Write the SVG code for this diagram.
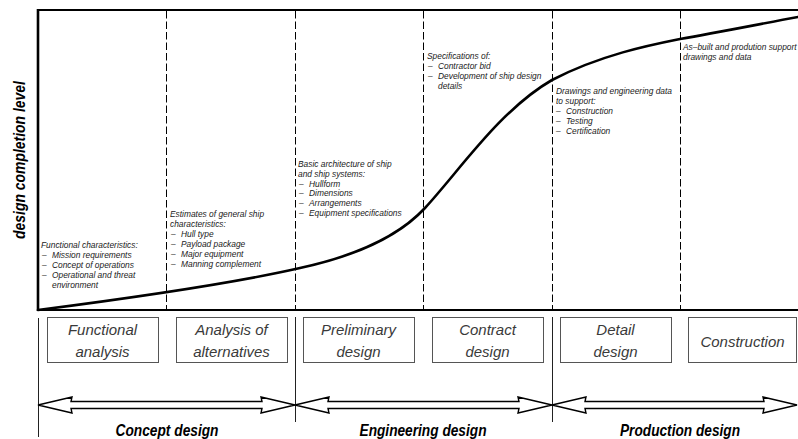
<svg xmlns="http://www.w3.org/2000/svg" width="798" height="439" viewBox="0 0 798 439">
<style>
.frame{stroke:#000;fill:none}
.dash{stroke:#000;stroke-width:1;stroke-dasharray:7.5 3;fill:none}
.vline{stroke:#222;stroke-width:1;fill:none}
.curve{stroke:#000;stroke-width:2.6;fill:none;stroke-linecap:round}
.box{fill:#fff;stroke:#555;stroke-width:1}
.btxt{font-family:"Liberation Sans",Arial,sans-serif;font-style:italic;font-size:15px;fill:#3a3a3a;text-anchor:middle}
.note{font-family:"Liberation Sans",Arial,sans-serif;font-style:italic;font-size:8.4px;fill:#1a1a1a}
.phase{font-family:"Liberation Sans",Arial,sans-serif;font-style:italic;font-weight:bold;font-size:16.5px;fill:#000;text-anchor:middle}
.arrow{fill:#fff;stroke:#000;stroke-width:1.4;stroke-linejoin:miter}
</style>
<rect width="798" height="439" fill="#fff"/>

<g id="axes">
<line class="frame" x1="38" y1="10" x2="798" y2="10" stroke-width="1.8"/>
<line class="frame" x1="38" y1="9" x2="38" y2="311" stroke-width="2.6"/>
<line class="frame" x1="37" y1="310" x2="798" y2="310" stroke-width="2.2"/>
<text class="phase" transform="translate(25,160) rotate(-90)" textLength="158" lengthAdjust="spacingAndGlyphs">design completion level</text>
</g>

<g id="dividers">
<line class="dash" x1="166.5" y1="11" x2="166.5" y2="309"/>
<line class="dash" x1="295.5" y1="11" x2="295.5" y2="309"/>
<line class="dash" x1="423.5" y1="11" x2="423.5" y2="309"/>
<line class="dash" x1="552.5" y1="11" x2="552.5" y2="309"/>
<line class="dash" x1="680.5" y1="11" x2="680.5" y2="309"/>
<line class="vline" x1="38.5" y1="318" x2="38.5" y2="437"/>
<line class="vline" x1="295.5" y1="317" x2="295.5" y2="422"/>
<line class="vline" x1="552.5" y1="317" x2="552.5" y2="422"/>
</g>

<g id="curve">
<path class="curve" d="M38,310 C100,302 230,284 300,268 C360,255 400,235 425,208 C460,170 500,110 552,80 C600,55 650,45 680,39 C720,32 760,24 798,17"/>
</g>

<g id="note-functional">
<text class="note" x="41" y="248">Functional characteristics:</text>
<text class="note" y="258"><tspan x="42">–</tspan><tspan x="52">Mission requirements</tspan></text>
<text class="note" y="268"><tspan x="42">–</tspan><tspan x="52">Concept of operations</tspan></text>
<text class="note" y="278"><tspan x="42">–</tspan><tspan x="52">Operational and threat</tspan></text>
<text class="note" x="52" y="288">environment</text>
</g>

<g id="note-estimates">
<text class="note" x="170" y="217">Estimates of general ship</text>
<text class="note" x="170" y="227">characteristics:</text>
<text class="note" y="237"><tspan x="171">–</tspan><tspan x="181">Hull type</tspan></text>
<text class="note" y="247"><tspan x="171">–</tspan><tspan x="181">Payload package</tspan></text>
<text class="note" y="257"><tspan x="171">–</tspan><tspan x="181">Major equipment</tspan></text>
<text class="note" y="267"><tspan x="171">–</tspan><tspan x="181">Manning complement</tspan></text>
</g>

<g id="note-basic">
<text class="note" x="298" y="167">Basic architecture of ship</text>
<text class="note" x="298" y="177">and ship systems:</text>
<text class="note" y="186.6"><tspan x="299">–</tspan><tspan x="309">Hullform</tspan></text>
<text class="note" y="196.4"><tspan x="299">–</tspan><tspan x="309">Dimensions</tspan></text>
<text class="note" y="206.2"><tspan x="299">–</tspan><tspan x="309">Arrangements</tspan></text>
<text class="note" y="216"><tspan x="299">–</tspan><tspan x="309">Equipment specifications</tspan></text>
</g>

<g id="note-specifications">
<text class="note" x="427" y="59">Specifications of:</text>
<text class="note" y="69"><tspan x="428">–</tspan><tspan x="438">Contractor bid</tspan></text>
<text class="note" y="79"><tspan x="428">–</tspan><tspan x="438">Development of ship design</tspan></text>
<text class="note" x="438" y="89">details</text>
</g>

<g id="note-drawings">
<text class="note" x="556" y="94">Drawings and engineering data</text>
<text class="note" x="556" y="104">to support:</text>
<text class="note" y="114"><tspan x="556">–</tspan><tspan x="566">Construction</tspan></text>
<text class="note" y="124"><tspan x="556">–</tspan><tspan x="566">Testing</tspan></text>
<text class="note" y="134"><tspan x="556">–</tspan><tspan x="566">Certification</tspan></text>
</g>

<g id="note-asbuilt">
<text class="note" x="683" y="50">As–built and prodution support</text>
<text class="note" x="683" y="60">drawings and data</text>
</g>

<g id="box-functional-analysis">
<rect class="box" x="47.5" y="317.5" width="111" height="45"/>
<text class="btxt" x="102.5" y="335">Functional</text>
<text class="btxt" x="102.5" y="357">analysis</text>
</g>
<g id="box-analysis-of-alternatives">
<rect class="box" x="176.5" y="317.5" width="111" height="45"/>
<text class="btxt" x="231.5" y="335">Analysis of</text>
<text class="btxt" x="231.5" y="357">alternatives</text>
</g>
<g id="box-preliminary-design">
<rect class="box" x="303.5" y="317.5" width="111" height="45"/>
<text class="btxt" x="358.5" y="335">Preliminary</text>
<text class="btxt" x="358.5" y="357">design</text>
</g>
<g id="box-contract-design">
<rect class="box" x="432.5" y="317.5" width="111" height="45"/>
<text class="btxt" x="487.5" y="335">Contract</text>
<text class="btxt" x="487.5" y="357">design</text>
</g>
<g id="box-detail-design">
<rect class="box" x="560.5" y="317.5" width="111" height="45"/>
<text class="btxt" x="615.5" y="335">Detail</text>
<text class="btxt" x="615.5" y="357">design</text>
</g>
<g id="box-construction">
<rect class="box" x="688.5" y="317.5" width="108" height="45"/>
<text class="btxt" x="742.5" y="347">Construction</text>
</g>

<g id="connectors">
<path id="arrow-concept" class="arrow" d="M38,405 L72,397 L71,401.5 L262,401.5 L261,397 L295,405 L261,413 L262,408.5 L71,408.5 L72,413 Z"/>
<path id="arrow-engineering" class="arrow" d="M295,405 L329,397 L328,401.5 L519,401.5 L518,397 L552,405 L518,413 L519,408.5 L328,408.5 L329,413 Z"/>
<path id="arrow-production" class="arrow" d="M552,405 L586,397 L585,401.5 L764,401.5 L763,397 L797,405 L763,413 L764,408.5 L585,408.5 L586,413 Z"/>
</g>

<g id="phase-concept"><text class="phase" x="167" y="436" textLength="103" lengthAdjust="spacingAndGlyphs">Concept design</text></g>
<g id="phase-engineering"><text class="phase" x="423" y="436" textLength="127" lengthAdjust="spacingAndGlyphs">Engineering design</text></g>
<g id="phase-production"><text class="phase" x="680" y="436" textLength="120" lengthAdjust="spacingAndGlyphs">Production design</text></g>
</svg>
